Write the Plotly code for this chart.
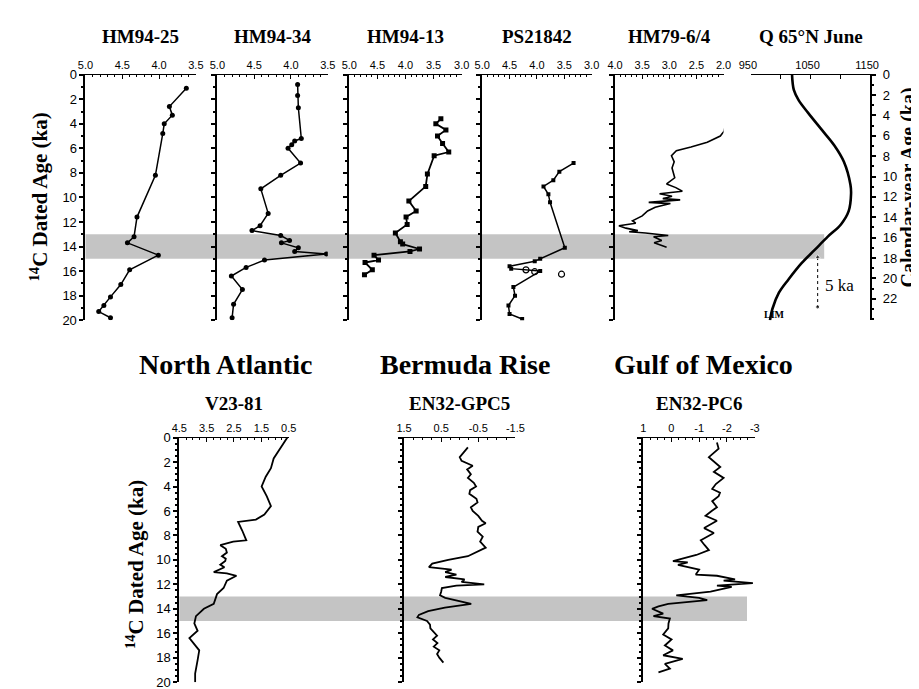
import plotly.graph_objects as go

W, H = 919, 689

# ---------------- data ----------------
top_titles = ["HM94-25", "HM94-34", "HM94-13", "PS21842", "HM79-6/4", "Q 65°N June"]
bottom_titles = ["V23-81", "EN32-GPC5", "EN32-PC6"]
region_titles = ["North Atlantic", "Bermuda Rise", "Gulf of Mexico"]

top_xranges = [[5.0, 3.5], [5.0, 3.5], [5.0, 3.0], [5.0, 3.0], [4.0, 2.0], [950, 1150]]
top_xticks = [[5.0, 4.5, 4.0, 3.5], [5.0, 4.5, 4.0, 3.5], [5.0, 4.5, 4.0, 3.5, 3.0],
              [5.0, 4.5, 4.0, 3.5, 3.0], [4.0, 3.5, 3.0, 2.5, 2.0], [950, 1000, 1050, 1100, 1150]]
top_xticktext = [["5.0", "4.5", "4.0", "3.5"], ["5.0", "4.5", "4.0", "3.5"],
                 ["5.0", "4.5", "4.0", "3.5", "3.0"], ["5.0", "4.5", "4.0", "3.5", "3.0"],
                 ["4.0", "3.5", "3.0", "2.5", "2.0"], ["950", " ", "1050", " ", "1150"]]
bottom_xranges = [[4.5, 0.5], [1.5, -1.5], [1, -3]]
bottom_xticks = [[4.5, 3.5, 2.5, 1.5, 0.5], [1.5, 0.5, -0.5, -1.5], [1, 0, -1, -2, -3]]
bottom_xticktext = [["4.5", "3.5", "2.5", "1.5", "0.5"], ["1.5", "0.5", "-0.5", "-1.5"],
                    ["1", "0", "-1", "-2", "-3"]]

age_range = [20, 0]
cal_range = [24.1, 0]
cal_ticks = [0, 2, 4, 6, 8, 10, 12, 14, 16, 18, 20, 22]
band_ages = [13, 15]

hm9425 = [(1.1, 3.63), (2.6, 3.86), (3.3, 3.82), (4.0, 3.93), (4.8, 3.95), (8.2, 4.05),
          (11.6, 4.30), (13.2, 4.34), (13.7, 4.43), (14.7, 4.01), (15.9, 4.40), (17.1, 4.52),
          (18.1, 4.66), (18.8, 4.75), (19.3, 4.82), (19.8, 4.66)]
hm9434 = [(0.8, 3.91), (1.7, 3.91), (2.7, 3.90), (5.2, 3.86), (5.4, 3.95), (5.7, 3.99),
          (6.0, 4.04), (7.2, 3.87), (8.2, 4.14), (9.3, 4.41), (11.3, 4.31), (12.3, 4.42),
          (12.7, 4.53), (13.1, 4.14), (13.5, 4.02), (13.7, 4.13), (14.1, 3.90), (14.4, 3.95),
          (14.6, 3.52), (15.1, 4.36), (15.7, 4.61), (16.4, 4.81), (17.5, 4.66), (18.7, 4.78),
          (19.8, 4.80)]
hm9413 = [(3.6, 3.37), (4.0, 3.46), (4.5, 3.28), (5.0, 3.43), (5.6, 3.34), (6.3, 3.23),
          (6.6, 3.49), (8.1, 3.61), (9.1, 3.64), (10.3, 3.94), (11.1, 3.81), (11.6, 3.99),
          (12.2, 3.97), (12.9, 4.18), (13.6, 4.09), (13.8, 4.05), (14.2, 3.75), (14.4, 3.92),
          (14.7, 4.56), (15.1, 4.48), (15.3, 4.72), (15.9, 4.59), (16.3, 4.73)]
ps21842 = [(7.2, 3.33), (7.9, 3.59), (8.6, 3.70), (9.1, 3.88), (9.75, 3.79), (10.4, 3.76),
           (14.1, 3.49), (15.0, 3.94), (15.2, 4.04), (15.6, 4.50), (15.8, 4.47), (16.0, 3.94),
           (17.3, 4.43), (18.0, 4.40), (18.8, 4.52), (19.5, 4.50), (19.9, 4.27)]
ps21842_open = [(15.9, 4.20), (16.05, 4.04), (16.25, 3.55)]
hm7964 = [(4.2, 1.97), (4.6, 1.99), (5.0, 2.06), (5.5, 2.30), (5.9, 2.60), (6.2, 2.87),
          (6.6, 2.96), (7.1, 2.91), (7.6, 2.95), (8.0, 2.92), (8.4, 2.90), (8.9, 3.05),
          (9.2, 2.88), (9.5, 2.76), (9.7, 3.18), (9.9, 2.95), (10.1, 3.12), (10.2, 2.80),
          (10.4, 3.38), (10.5, 2.98), (10.8, 3.26), (11.1, 3.40), (11.5, 3.50), (11.9, 3.68),
          (12.1, 3.62), (12.3, 3.93), (12.5, 3.80), (12.7, 3.58), (12.8, 3.74), (12.9, 3.44),
          (13.1, 3.02), (13.2, 3.29), (13.5, 3.14), (13.7, 3.28), (14.05, 3.05)]
q65n = [(0, 1019), (1.5, 1022), (2.5, 1030), (3.75, 1046), (5.35, 1068), (6.95, 1090),
        (8.55, 1106), (10.8, 1117), (11.7, 1118), (13.4, 1114), (14.7, 1101), (15.9, 1079),
        (17.2, 1057), (18.5, 1035), (20.1, 1013), (21.4, 997), (23.0, 986), (24.1, 982)]
v2381 = [(0.0, 0.55), (0.9, 0.80), (1.7, 1.05), (2.5, 1.15), (3.2, 1.34), (4.0, 1.49),
         (4.8, 1.30), (5.6, 1.15), (6.3, 1.39), (6.7, 1.70), (6.9, 2.35), (7.6, 2.20),
         (8.4, 2.05), (8.5, 2.53), (8.8, 3.00), (9.1, 2.80), (9.4, 2.76), (9.7, 2.94),
         (9.9, 2.80), (10.1, 2.82), (10.4, 3.00), (10.6, 2.85), (10.8, 3.05), (11.0, 3.24),
         (11.1, 2.76), (11.3, 2.41), (11.7, 2.76), (12.3, 2.88), (12.8, 3.12), (13.6, 3.24),
         (14.0, 3.60), (14.6, 3.89), (15.2, 3.95), (15.8, 3.83), (16.4, 4.13), (17.4, 3.77),
         (18.2, 3.83), (19.3, 3.92), (20.0, 3.92)]
gpc5 = [(0.8, -0.22), (1.2, -0.10), (1.6, 0.00), (1.9, -0.05), (2.3, -0.35), (2.6, -0.20),
        (3.0, -0.30), (3.3, -0.22), (3.7, -0.38), (4.0, -0.44), (4.3, -0.28), (4.6, -0.26),
        (5.0, -0.45), (5.3, -0.48), (5.7, -0.30), (6.0, -0.35), (6.4, -0.50), (6.8, -0.60),
        (7.0, -0.70), (7.3, -0.50), (7.7, -0.48), (8.1, -0.62), (8.5, -0.55), (9.0, -0.70),
        (9.4, -0.40), (9.7, -0.22), (10.0, 0.31), (10.3, 0.74), (10.6, 0.83), (10.8, 0.22),
        (11.0, 0.39), (11.2, 0.09), (11.4, 0.39), (11.6, -0.13), (11.8, -0.05), (12.0, -0.66),
        (12.1, 0.09), (12.3, 0.48), (12.6, 0.50), (12.9, 0.53), (13.1, 0.39), (13.4, -0.04),
        (13.6, -0.31), (13.9, 0.40), (14.2, 0.85), (14.5, 1.10), (14.7, 1.14), (15.0, 0.88),
        (15.3, 0.80), (15.6, 0.79), (15.9, 0.70), (16.2, 0.61), (16.5, 0.72), (16.8, 0.60),
        (17.1, 0.70), (17.4, 0.55), (17.7, 0.61), (18.0, 0.55), (18.4, 0.44)]
pc6 = [(0.4, -1.64), (0.9, -1.70), (1.6, -1.35), (2.4, -1.76), (2.8, -1.53), (3.3, -1.88),
       (3.8, -1.60), (4.2, -1.47), (4.5, -1.75), (4.8, -1.70), (5.2, -1.47), (5.7, -1.64),
       (6.0, -1.45), (6.4, -1.23), (6.8, -1.64), (7.1, -1.40), (7.4, -1.18), (7.8, -1.53),
       (8.1, -1.30), (8.4, -1.06), (8.8, -1.20), (9.2, -1.35), (9.6, -0.90), (10.1, -0.06),
       (10.2, -0.59), (10.4, -0.24), (10.8, -1.00), (11.2, -0.88), (11.3, -1.64), (11.6, -2.29),
       (11.7, -1.88), (11.9, -2.93), (12.1, -1.64), (12.2, -2.17), (12.6, -1.41), (12.8, -0.71),
       (12.9, -0.18), (13.1, -1.00), (13.3, -1.29), (13.6, 0.11), (13.8, 0.46), (14.0, 0.69),
       (14.4, 0.29), (14.6, 0.64), (14.8, 0.05), (15.2, 0.10), (15.6, 0.11), (16.1, 0.29),
       (16.5, -0.01), (17.0, 0.23), (17.4, -0.06), (17.8, 0.29), (18.1, -0.41), (18.5, 0.23),
       (18.9, 0.05), (19.2, 0.46)]
lim_arrow = [(17.9, 1062), (22.8, 1062)]

# ---------------- layout geometry (pixels) ----------------
top_px = [(67, 180), (202, 315), (337, 452), (473, 585), (609, 720), (748, 870)]
top_y = (61, 312)
bot_px = [(163, 275), (393, 507), (638, 752)]
bot_y = (432, 682)


def dx(a, b):
    return [a / W, b / W]


def dy(t, b):
    return [1 - b / H, 1 - t / H]


def py(p):
    return 1 - p / H


BLACK = "black"
tickfont_x = dict(family="Liberation Sans", size=11, color=BLACK)
tickfont_y = dict(family="Liberation Sans", size=13, color=BLACK)
serif = "Liberation Serif"

fig = go.Figure()
layout = {}


def ax_name(kind, i):
    return kind + ("" if i == 1 else str(i))


def add_axes(i, xdom, ydom, xr, xtv, xtt, minor_x, show_ylabels, minor_y=1):
    layout[ax_name("xaxis", i)] = dict(
        domain=xdom, range=xr, anchor=ax_name("y", i), side="top",
        showline=True, linecolor=BLACK, linewidth=1, ticks="inside", ticklen=4,
        tickcolor=BLACK, tickwidth=1, tickmode="array", tickvals=xtv, ticktext=xtt,
        tickfont=tickfont_x, showgrid=False, zeroline=False, fixedrange=True,
        minor=(dict(dtick=minor_x, tick0=0, ticks="inside", ticklen=2, tickcolor=BLACK,
                    showgrid=False) if minor_x else None))
    layout[ax_name("yaxis", i)] = dict(
        domain=ydom, range=age_range, anchor=ax_name("x", i),
        showline=True, linecolor=BLACK, linewidth=2, ticks="outside", ticklen=4,
        tickcolor=BLACK, tickwidth=1.5, tickmode="linear", tick0=0, dtick=2,
        showticklabels=show_ylabels, tickfont=tickfont_y, showgrid=False, zeroline=False,
        fixedrange=True,
        minor=dict(dtick=minor_y, tick0=0, ticks="outside", ticklen=2, tickcolor=BLACK,
                   showgrid=False))


for k in range(6):
    add_axes(k + 1, dx(*top_px[k]), dy(*top_y), top_xranges[k], top_xticks[k],
             top_xticktext[k], None if k == 5 else 0.1, k == 0)
for k in range(3):
    add_axes(k + 7, dx(*bot_px[k]), dy(*bot_y), bottom_xranges[k], bottom_xticks[k],
             bottom_xticktext[k], 0.25, k == 0, minor_y=0.5)

# calendar-age axis for the insolation panel (right side)
layout["yaxis10"] = dict(
    domain=dy(*top_y), range=cal_range, anchor="x6", side="right",
    showline=True, linecolor=BLACK, linewidth=2, ticks="outside", ticklen=4,
    tickcolor=BLACK, tickwidth=1.5, tickmode="array", tickvals=cal_ticks,
    tickfont=tickfont_y, showgrid=False, zeroline=False, fixedrange=True,
    ticklabelstandoff=4,
    minor=dict(dtick=1, tick0=0, ticks="outside", ticklen=2, tickcolor=BLACK, showgrid=False))
# keep the right-hand end label of the insolation axis clear of the "0" tick
layout["xaxis6"]["ticklabelshift"] = -3


def unzip(pairs):
    return [p[0] for p in pairs], [p[1] for p in pairs]


def line_trace(pairs, axi, width=1.5, marker=None, mode="lines", yref=None, shape="linear"):
    ages, vals = unzip(pairs)
    return go.Scatter(x=vals, y=ages, xaxis=ax_name("x", axi), yaxis=yref or ax_name("y", axi),
                      mode=mode, line=dict(color=BLACK, width=width, shape=shape),
                      marker=marker, showlegend=False, hoverinfo="skip")


fig.add_trace(line_trace(hm9425, 1, 1.5, dict(symbol="circle", size=5, color=BLACK), "lines+markers"))
fig.add_trace(line_trace(hm9434, 2, 1.5, dict(symbol="circle", size=5, color=BLACK), "lines+markers"))
fig.add_trace(line_trace(hm9413, 3, 1.8, dict(symbol="square", size=5, color=BLACK), "lines+markers"))
fig.add_trace(line_trace(ps21842, 4, 1.5, dict(symbol="square", size=4, color=BLACK), "lines+markers"))
oa, ov = unzip(ps21842_open)
fig.add_trace(go.Scatter(x=ov, y=oa, xaxis="x4", yaxis="y4", mode="markers",
                         marker=dict(symbol="circle-open", size=6, color=BLACK, line=dict(width=1.2)),
                         showlegend=False, hoverinfo="skip"))
fig.add_trace(line_trace(hm7964, 5, 1.6))
fig.add_trace(line_trace(q65n, 6, 2.6, yref="y10", shape="spline"))
fig.add_trace(line_trace(v2381, 7, 1.8))
fig.add_trace(line_trace(gpc5, 8, 1.8))
fig.add_trace(line_trace(pc6, 9, 1.8))

# 5 ka dotted arrow on the insolation panel
aa, av = unzip(lim_arrow)
fig.add_trace(go.Scatter(x=av, y=aa, xaxis="x6", yaxis="y10", mode="lines+markers",
                         line=dict(color=BLACK, width=1, dash="dot"),
                         marker=dict(symbol=["triangle-up", "circle"], size=[5, 4], color=BLACK),
                         showlegend=False, hoverinfo="skip"))

# shaded bands
shapes = [
    dict(type="rect", xref="paper", yref="y", x0=67 / W, x1=823 / W, y0=band_ages[0],
         y1=band_ages[1], fillcolor="#c4c4c4", line=dict(width=0), layer="below"),
    dict(type="rect", xref="paper", yref="y7", x0=163 / W, x1=744 / W, y0=band_ages[0],
         y1=band_ages[1], fillcolor="#c4c4c4", line=dict(width=0), layer="below"),
]

annotations = []
for k, t in enumerate(top_titles):
    annotations.append(dict(text="<b>%s</b>" % t, xref="paper", yref="paper",
                            x=(top_px[k][0] + top_px[k][1]) / 2 / W, y=py(22),
                            xanchor="center", yanchor="middle", showarrow=False,
                            font=dict(family=serif, size=19, color=BLACK)))
for k, t in enumerate(bottom_titles):
    annotations.append(dict(text="<b>%s</b>" % t, xref="paper", yref="paper",
                            x=(bot_px[k][0] + bot_px[k][1]) / 2 / W, y=py(397),
                            xanchor="center", yanchor="middle", showarrow=False,
                            font=dict(family=serif, size=19, color=BLACK)))
region_cx = [210, 455, 699]
for k, t in enumerate(region_titles):
    annotations.append(dict(text="<b>%s</b>" % t, xref="paper", yref="paper",
                            x=region_cx[k] / W, y=py(357), xanchor="center", yanchor="middle",
                            showarrow=False, font=dict(family=serif, size=28, color=BLACK)))
annotations += [
    dict(text="<b><sup>14</sup>C Dated Age (ka)</b>", xref="paper", yref="paper", x=20 / W,
         y=py(186), textangle=-90, showarrow=False, xanchor="center", yanchor="middle",
         font=dict(family=serif, size=21, color=BLACK)),
    dict(text="<b><sup>14</sup>C Dated Age (ka)</b>", xref="paper", yref="paper", x=118 / W,
         y=py(562), textangle=-90, showarrow=False, xanchor="center", yanchor="middle",
         font=dict(family=serif, size=21, color=BLACK)),
    dict(text="<b>Calendar-year Age (ka)</b>", xref="paper", yref="paper", x=909 / W,
         y=py(176), textangle=-90, showarrow=False, xanchor="center", yanchor="middle",
         font=dict(family=serif, size=20, color=BLACK)),
    dict(text="5 ka", xref="x6", yref="y10", x=1071, y=20.7, xanchor="left", yanchor="middle",
         showarrow=False, font=dict(family=serif, size=17, color=BLACK)),
    dict(text="<b>LIM</b>", xref="x6", yref="y10", x=990, y=23.5, xanchor="center",
         yanchor="middle", showarrow=False, font=dict(family=serif, size=10, color=BLACK)),
]

fig.update_layout(**layout)
fig.update_layout(width=W, height=H, autosize=False, margin=dict(l=0, r=0, t=0, b=0),
                  paper_bgcolor="white", plot_bgcolor="white", showlegend=False,
                  shapes=shapes, annotations=annotations)
fig.write_html("out.html")
